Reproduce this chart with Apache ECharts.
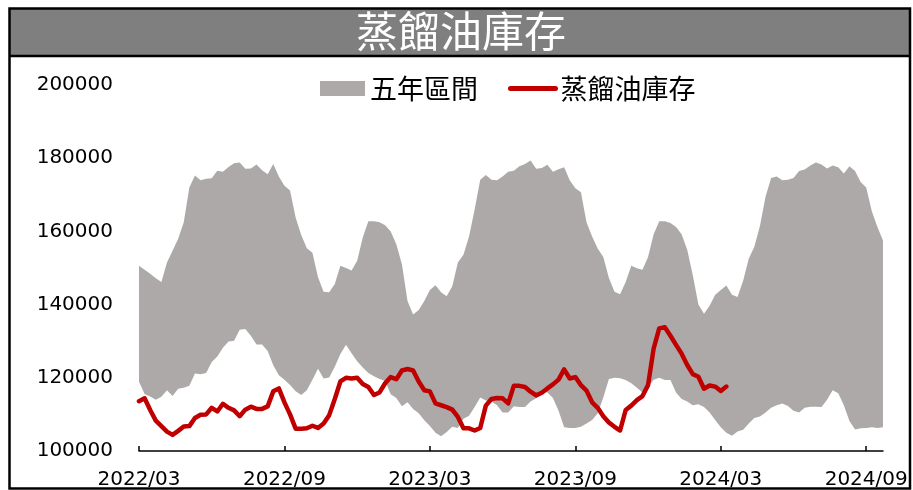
<!DOCTYPE html>
<html>
<head>
<meta charset="utf-8">
<title>蒸餾油庫存</title>
<script src="https://cdn.jsdelivr.net/npm/echarts@6/dist/echarts.min.js"></script>
<style>
  html, body { margin: 0; padding: 0; background: #fff; }
  #chart { width: 913px; height: 490px; }
</style>
</head>
<body>
<div id="chart"></div>
<script>
// weekly categories, 2022/03 onward
let startDate = new Date(Date.UTC(2022, 2, 1));
let weeks = [];
for (let i = 0; i < 134; i++) {
  let d = new Date(startDate.getTime() + i * 7 * 86400000);
  weeks.push(d.toISOString().slice(0, 10));
}
let tickLabels = ["2022/03", "2022/09", "2023/03", "2023/09", "2024/03", "2024/09"];
let tickStep = 26;

// 五年區間 upper / lower
let bandUpper = [
  150600, 149500, 148400, 147200, 146200, 151500, 154700, 158000, 162500, 172000,
  175300, 174000, 174400, 174500, 176600, 176300, 177600, 178600, 178800, 177100,
  177200, 178300, 176700, 175600, 178400, 175000, 172500, 171200, 163800, 159000,
  155400, 154200, 147500, 143500, 143400, 145600, 150600, 150000, 149300, 152000,
  158300, 162800, 162800, 162500, 161700, 160000, 156500, 151000, 141000, 137300,
  138500, 141000, 144000, 145300, 143400, 142300, 145000, 151500, 153600, 158600,
  166000, 174100, 175400, 174100, 174000, 175000, 176300, 176600, 177800, 178400,
  179400, 177100, 177300, 178200, 176300, 177000, 177500, 174000, 171800, 170700,
  162500, 158600, 155300, 153000, 147300, 143500, 142800, 146200, 150600, 149900,
  149500, 153000, 159200, 162800, 162800, 162300, 161200, 159200, 155000, 148000,
  140000, 137500, 139700, 142700, 144000, 145200, 142700, 142100, 146500, 152500,
  155800, 161500, 169500, 174600, 175000, 174000, 174100, 174600, 176500, 176900,
  178000, 178800, 178300, 177200, 178000, 177500, 175800, 177800, 176500, 173500,
  172000, 165500, 161200, 157500
];
let bandLower = [
  118900, 115600, 114900, 114000, 114800, 116600, 115000, 117000, 117300, 117800,
  121200, 121000, 121300, 124300, 125800, 128200, 129900, 130100, 133100, 133300,
  131500, 129100, 129100, 127300, 123400, 120700, 119500, 118000, 116300, 115300,
  116600, 119500, 122500, 119800, 120100, 123000, 126500, 129000, 126700, 124500,
  122800, 121300, 120400, 119700, 119100, 115500, 114500, 112200, 113300, 111500,
  110300, 108400, 106800, 105000, 104000, 105200, 106600, 106300, 108800, 109600,
  112000, 114600, 113800, 113500, 112500, 110500, 110500, 112200, 112000, 112000,
  113500, 114400, 116500, 116000, 114500, 111000, 106500, 106300, 106300, 106600,
  107500, 108500, 110300, 114600, 119700, 120000, 119900, 119400, 118500, 117300,
  116000, 117500, 119500, 120000, 119400, 119400, 116000, 114200, 113500, 112500,
  112800, 112000, 110500, 108500, 106500, 105000, 104200, 105300, 105800, 107500,
  109000, 109400, 110500, 111800, 112500, 113000, 112300, 111000, 110500, 111800,
  112100, 112100, 112000, 114000, 116600, 115800, 112500, 108200, 105900, 106200,
  106300, 106500, 106300, 106500
];

// 蒸餾油庫存
let distillate = [
  113600, 114400, 111200, 108300, 106800, 105300, 104400, 105500, 106700, 106800,
  109000, 109900, 110000, 111800, 110800, 112900, 111800, 111100, 109500, 111300,
  112100, 111500, 111500, 112200, 116300, 117100, 113300, 110000, 106100, 106100,
  106200, 106900, 106300, 107500, 109800, 114200, 119000, 120000, 119800, 120000,
  118300, 117500, 115300, 116000, 118500, 120200, 119600, 122000, 122400, 122000,
  119000, 116600, 116300, 113000, 112500, 112000, 111300, 109300, 106200, 106200,
  105600, 106300, 112400, 114200, 114500, 114400, 113000, 117800, 117800, 117500,
  116200, 115200, 115900, 117100, 118200, 119500, 122300, 119800, 120200, 118000,
  116500, 113300, 111800, 109500, 107800, 106600, 105600, 111200, 112400, 113900,
  115000, 118000, 128000, 133500, 133800, 131500, 129000, 126600, 123500, 121000,
  120300, 117000, 117900, 117600, 116400, 117600
];

let bandRange = bandUpper.map((v, i) => v - bandLower[i]);

let bandColor = "#ADA9A9";
let lineColor = "#C00000";
let labelFont = "DejaVu Sans";
let cjkFont = "Noto Sans CJK TC";

let myChart = echarts.init(document.getElementById("chart"));
let option = {
  animation: false,
  backgroundColor: "#fff",
  title: {
    text: "蒸餾油庫存",
    left: 356,
    top: 10,
    padding: 0,
    z: 10,
    textStyle: {
      color: "#fff",
      fontSize: 42,
      fontWeight: "normal",
      fontFamily: cjkFont
    }
  },
  graphic: [
    {
      type: "rect",
      z: 1,
      shape: { x: 9, y: 9, width: 901, height: 46 },
      style: { fill: "#7F7F7F" }
    },
    {
      type: "line",
      z: 100,
      shape: { x1: 9, y1: 56, x2: 910, y2: 56 },
      style: { stroke: "#000", lineWidth: 2.5 }
    },
    {
      type: "rect",
      z: 100,
      shape: { x: 9.5, y: 8.5, width: 900.5, height: 480 },
      style: { fill: null, stroke: "#000", lineWidth: 2.5 }
    }
  ],
  legend: {
    left: 320,
    top: 75,
    padding: 0,
    itemWidth: 45,
    itemHeight: 15,
    itemGap: 30,
    textStyle: {
      fontSize: 27,
      color: "#000",
      fontFamily: cjkFont
    },
    data: [
      { name: "五年區間", icon: "rect", itemStyle: { color: bandColor } },
      {
        name: "蒸餾油庫存",
        itemStyle: { opacity: 0 },
        lineStyle: { color: lineColor, width: 5, cap: "round" }
      }
    ]
  },
  grid: {
    left: 139,
    right: 30,
    top: 85,
    bottom: 37,
    containLabel: false
  },
  xAxis: {
    type: "category",
    boundaryGap: false,
    data: weeks,
    axisLine: {
      lineStyle: { color: "#000", width: 1.5 }
    },
    axisTick: {
      inside: true,
      length: 5,
      interval: (index) => index % tickStep === 0,
      lineStyle: { color: "#000", width: 1.5 }
    },
    axisLabel: {
      interval: (index) => index % tickStep === 0,
      margin: 19,
      fontSize: 20,
      color: "#000",
      fontFamily: labelFont,
      formatter: (value) => {
        let idx = weeks.indexOf(value);
        return tickLabels[idx / tickStep] || "";
      }
    },
    splitLine: { show: false }
  },
  yAxis: {
    type: "value",
    min: 100000,
    max: 200000,
    interval: 20000,
    axisLine: { show: false },
    axisTick: { show: false },
    splitLine: { show: false },
    axisLabel: {
      margin: 26,
      fontSize: 20,
      color: "#000",
      fontFamily: labelFont,
      formatter: (v) => String(v)
    }
  },
  series: [
    {
      name: "bandBase",
      type: "line",
      stack: "band",
      data: bandLower,
      symbol: "none",
      lineStyle: { width: 0, opacity: 0 },
      silent: true,
      z: 1
    },
    {
      name: "五年區間",
      type: "line",
      stack: "band",
      data: bandRange,
      symbol: "none",
      itemStyle: { color: bandColor },
      lineStyle: { width: 0, opacity: 0 },
      areaStyle: { color: bandColor, opacity: 1 },
      z: 1
    },
    {
      name: "蒸餾油庫存",
      type: "line",
      data: distillate,
      symbol: "none",
      itemStyle: { color: lineColor },
      lineStyle: { color: lineColor, width: 4.5, cap: "round", join: "round" },
      z: 3
    }
  ]
};
myChart.setOption(option);
window.addEventListener("resize", () => {
  myChart.resize();
});
</script>
</body>
</html>
